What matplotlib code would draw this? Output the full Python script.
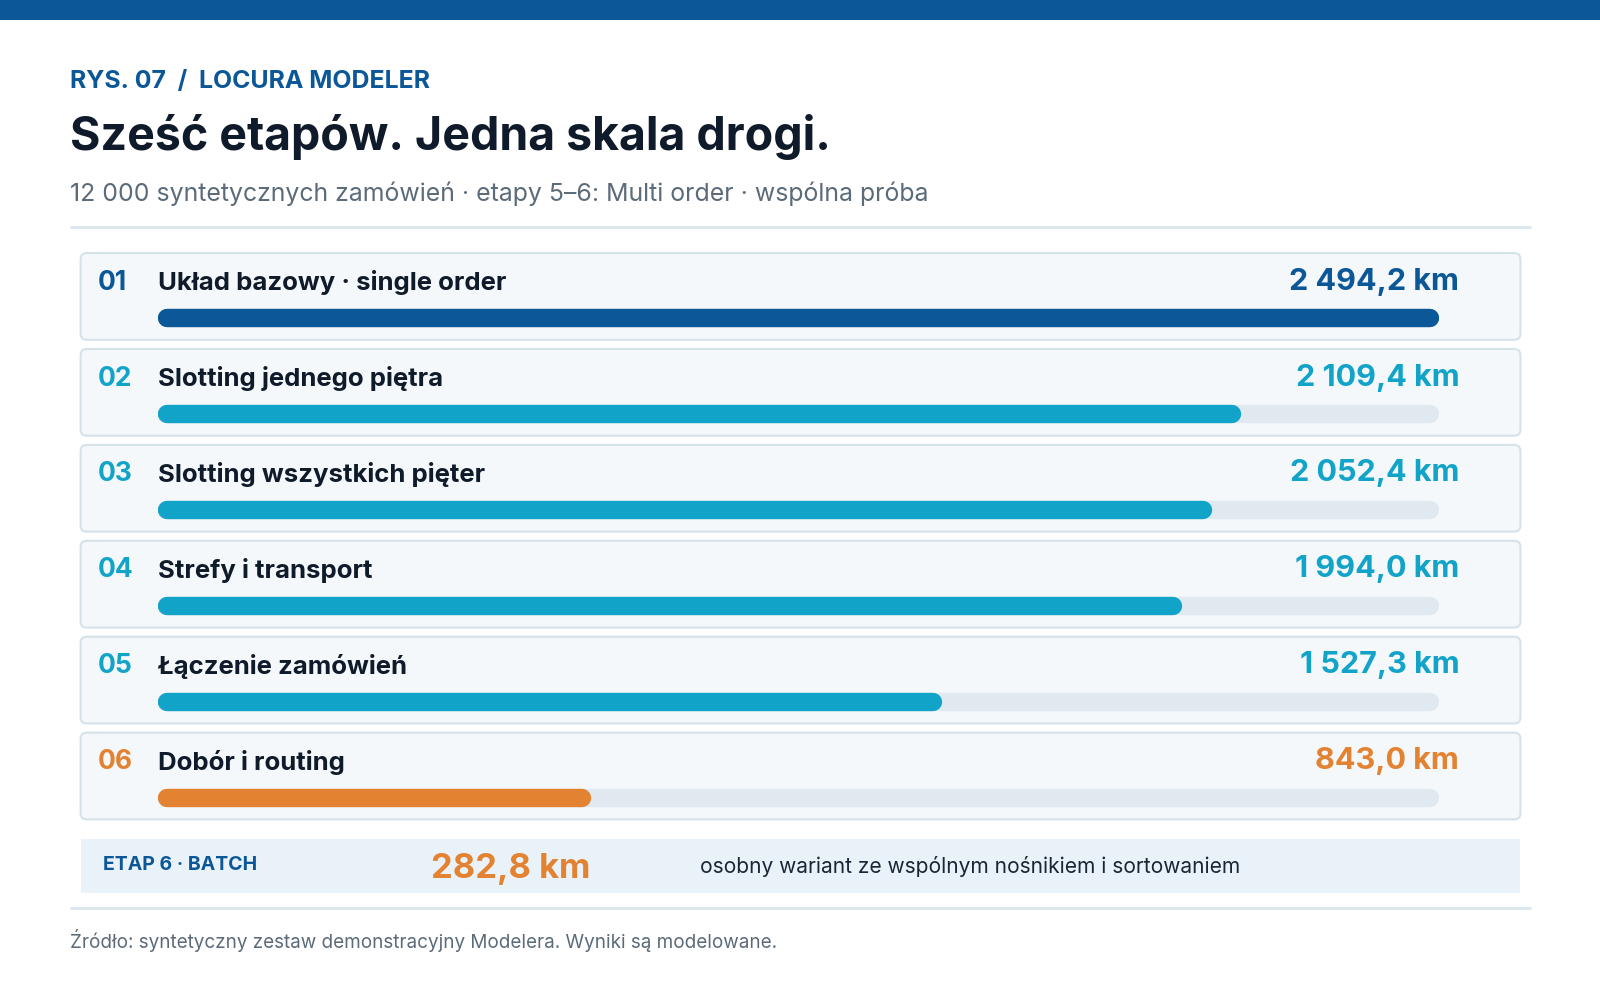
import matplotlib
matplotlib.use("Agg")
import matplotlib.pyplot as plt
from matplotlib.patches import FancyBboxPatch, Rectangle

plt.rcParams['font.family'] = ['Inter', 'DejaVu Sans']

# data
stage_nums = ["01", "02", "03", "04", "05", "06"]
stage_names = ["Układ bazowy · single order", "Slotting jednego piętra",
               "Slotting wszystkich pięter", "Strefy i transport",
               "Łączenie zamówień", "Dobór i routing"]
stage_km = [2494.2, 2109.4, 2052.4, 1994.0, 1527.3, 843.0]
stage_labels = ["2 494,2 km", "2 109,4 km", "2 052,4 km", "1 994,0 km",
                "1 527,3 km", "843,0 km"]
batch_label = "282,8 km"

BLUE = "#0b5797"
CYAN = "#12a3c9"
ORANGE = "#e38230"
stage_colors = [BLUE, CYAN, CYAN, CYAN, CYAN, ORANGE]

W, H = 1568, 980  # layout units (scaled to 1600x1000 output)

fig = plt.figure(figsize=(16, 10), dpi=100)
ax = fig.add_axes([0, 0, 1, 1])
ax.set_xlim(0, W)
ax.set_ylim(H, 0)
ax.axis("off")

# top bar
ax.add_patch(Rectangle((0, 0), W, 20, color=BLUE, lw=0))

ax.text(69, 80, "RYS. 07  /  LOCURA MODELER", fontsize=17.9, fontweight="bold",
        color=BLUE, va="center", ha="left")
ax.text(69, 134, "Sześć etapów. Jedna skala drogi.", fontsize=33.5, fontweight="bold",
        color="#0f1b2a", va="center", ha="left")
ax.text(69, 190, "12 000 syntetycznych zamówień · etapy 5–6: Multi order · wspólna próba",
        fontsize=17.9, color="#5b6b7a", va="center", ha="left")
ax.plot([69, 1500], [222, 222], color="#dbe6ee", lw=2, solid_capstyle="butt")

# cards
card_top0, card_step, card_h = 248, 94, 85
for i in range(len(stage_km)):
    top = card_top0 + i * card_step
    ax.add_patch(FancyBboxPatch((79, top), 1411, card_h,
                                boxstyle="round,pad=0,rounding_size=6",
                                facecolor="#f4f8fb", edgecolor="#d6e2ea", lw=1.5))
    ax.text(96, top + 29, stage_nums[i], fontsize=19, fontweight="bold",
            color=stage_colors[i], va="center", ha="left")
    ax.text(155, top + 29, stage_names[i], fontsize=18.5, fontweight="bold",
            color="#0f1b2a", va="center", ha="left")
    ax.text(1430, top + 28, stage_labels[i], fontsize=22, fontweight="bold",
            color=stage_colors[i], va="center", ha="right")

# bars axes over track region
x0, x1 = 155, 1410
bax = fig.add_axes([x0 / W, 0, (x1 - x0) / W, 1])
bax.axis("off")
vmax = max(stage_km)
bax.set_xlim(0, vmax)
bax.set_ylim(H, 0)
bar_px = 18
lw_pt = bar_px * (1600 / W) * 0.72
cap = (bar_px / 2) * vmax / (x1 - x0)
for i, v in enumerate(stage_km):
    y = card_top0 + i * card_step + 64
    bax.plot([cap, vmax - cap], [y, y], color="#e1e9f0", lw=lw_pt,
             solid_capstyle="round")
    bax.plot([cap, v - cap], [y, y], color=stage_colors[i], lw=lw_pt,
             solid_capstyle="round")

# batch box
ax.add_patch(Rectangle((79, 822), 1411, 53, facecolor="#e8f2f8", lw=0))
ax.text(101, 848, "ETAP 6 · BATCH", fontsize=14, fontweight="bold",
        color=BLUE, va="center", ha="left")
ax.text(422, 852, batch_label, fontsize=24.8, fontweight="bold",
        color=ORANGE, va="center", ha="left")
ax.text(686, 849, "osobny wariant ze wspólnym nośnikiem i sortowaniem",
        fontsize=15.1, color="#1a2633", va="center", ha="left")

ax.plot([69, 1500], [890, 890], color="#dbe6ee", lw=2, solid_capstyle="butt")
ax.text(69, 922, "Źródło: syntetyczny zestaw demonstracyjny Modelera. Wyniki są modelowane.",
        fontsize=13.6, color="#5b6b7a", va="center", ha="left")

fig.savefig("out.png", dpi=100, facecolor="white")
